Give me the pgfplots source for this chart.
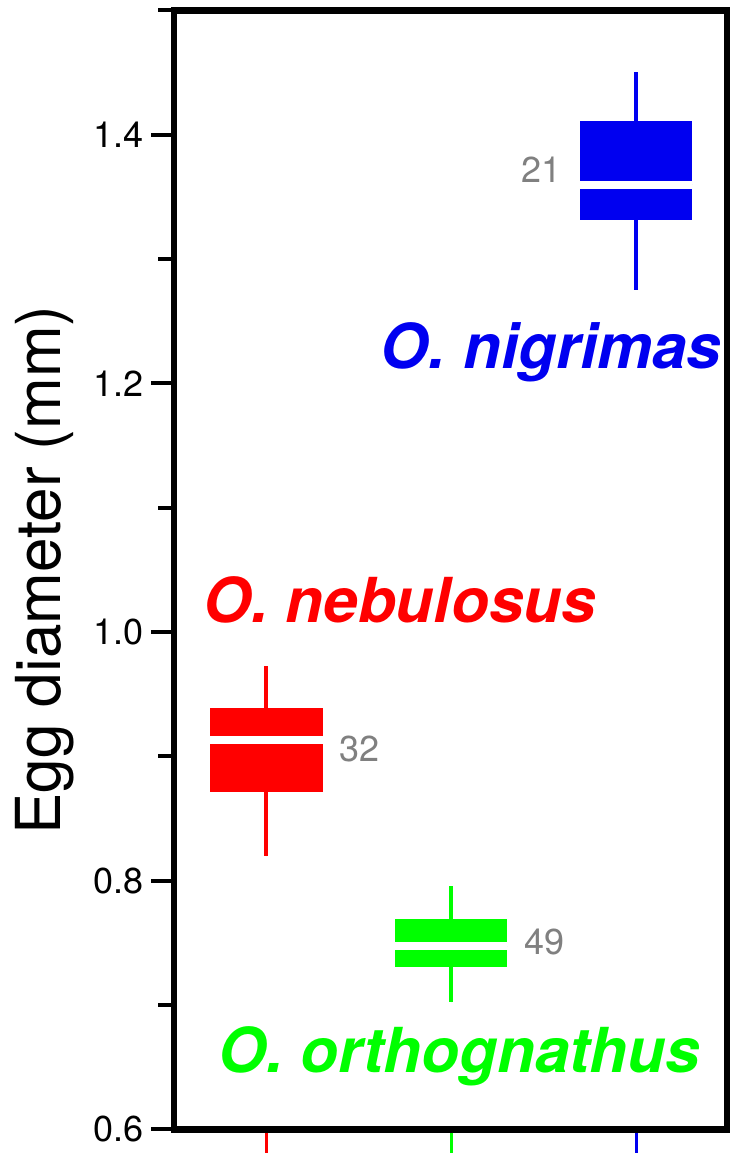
\documentclass[border=0pt]{standalone}
\usepackage{fontspec}
\setmainfont{TeX Gyre Heros}
\usepackage{pgfplots}
\pgfplotsset{compat=1.18}
\usepgfplotslibrary{statistics}
\definecolor{cntgray}{RGB}{128,128,128}
\definecolor{sred}{RGB}{255,0,0}
\definecolor{sgreen}{RGB}{0,255,0}
\definecolor{sblue}{RGB}{0,0,240}
\begin{document}
\begin{tikzpicture}
\begin{axis}[
  scale only axis, width=276.5pt, height=559.5pt,
  xmin=0.5, xmax=3.49, ymin=0.6, ymax=1.5,
  clip=false,
  axis line style={line width=3.2pt, black},
  xtick=\empty,
  ytick={0.6,0.8,1.0,1.2,1.4},
  minor ytick={0.7,0.9,1.1,1.3,1.5},
  tick align=outside, ytick pos=left,
  major tick length=11.5pt, minor tick length=8pt,
  major tick style={line width=2pt, black},
  minor tick style={line width=2pt, black},
  /pgf/number format/assume math mode=true,
  yticklabel style={font=\fontsize{18}{18}\selectfont, /pgf/number format/fixed, /pgf/number format/fixed zerofill, /pgf/number format/precision=1},
  ylabel={Egg diameter (mm)},
  ylabel style={at={(axis description cs:-0.205,0.5)}, anchor=base, font=\fontsize{31}{31}\selectfont},
  boxplot/draw direction=y,
  boxplot/whisker extend=0,
  boxplot/box extend=0.606,
  boxplot/every box/.style={draw=none},
  boxplot/every median/.style={draw=white, line width=4pt},
]
\addplot[sred, fill=sred, line width=2pt,
  boxplot prepared={draw position=1, lower whisker=0.8197, lower quartile=0.8712, median=0.9131, upper quartile=0.9388, upper whisker=0.9726}] coordinates {};
\addplot[sgreen, fill=sgreen, line width=2pt,
  boxplot prepared={draw position=2, lower whisker=0.7022, lower quartile=0.7304, median=0.7473, upper quartile=0.769, upper whisker=0.7956}] coordinates {};
\addplot[sblue, fill=sblue, line width=2pt,
  boxplot prepared={draw position=3, lower whisker=1.2752, lower quartile=1.3316, median=1.3598, upper quartile=1.4113, upper whisker=1.4507}] coordinates {};
\node[anchor=base west, text=sblue, inner sep=0pt, font=\fontsize{31}{31}\selectfont\bfseries\itshape] at (axis cs:1.615,1.2117) {O. nigrimas};
\node[anchor=base west, text=sred, inner sep=0pt, font=\fontsize{31}{31}\selectfont\bfseries\itshape] at (axis cs:0.655,1.008) {O. nebulosus};
\node[anchor=base west, text=sgreen, inner sep=0pt, font=\fontsize{31}{31}\selectfont\bfseries\itshape] at (axis cs:0.736,0.6459) {O. orthognathus};
\node[anchor=east, text=cntgray, inner sep=0pt, font=\fontsize{18}{18}\selectfont] at (axis cs:2.596,1.3718) {21};
\node[anchor=west, text=cntgray, inner sep=0pt, font=\fontsize{18}{18}\selectfont] at (axis cs:1.3935,0.9058) {32};
\node[anchor=west, text=cntgray, inner sep=0pt, font=\fontsize{18}{18}\selectfont] at (axis cs:2.391,0.7505) {49};
\draw[sred, line width=1.5pt] ([yshift=-1.6pt]axis cs:1,0.6) -- ([yshift=-14pt]axis cs:1,0.6);
\draw[sgreen, line width=1.5pt] ([yshift=-1.6pt]axis cs:2,0.6) -- ([yshift=-14pt]axis cs:2,0.6);
\draw[sblue, line width=1.5pt] ([yshift=-1.6pt]axis cs:3,0.6) -- ([yshift=-14pt]axis cs:3,0.6);
\end{axis}
\pgfresetboundingbox
\path ([shift={(-87pt,-11.75pt)}]current axis.south west) rectangle ([shift={(2.5pt,5.25pt)}]current axis.north east);
\end{tikzpicture}
\end{document}
